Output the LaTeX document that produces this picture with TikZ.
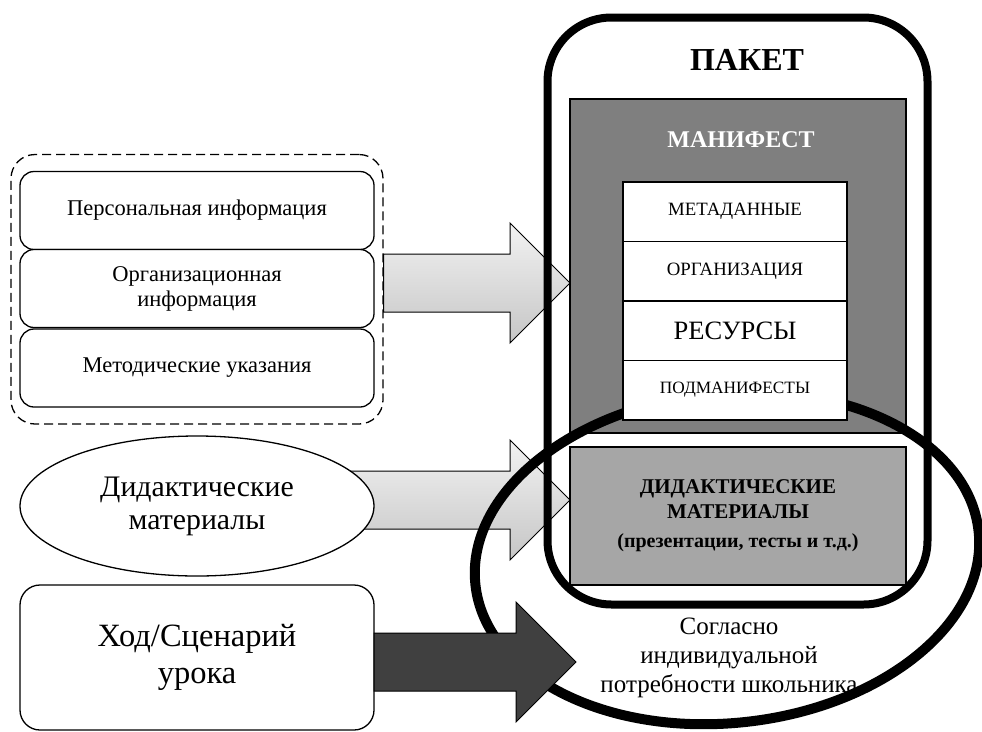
\documentclass[tikz,border=0pt]{standalone}
\usepackage{fontspec}
\setmainfont{Liberation Serif}
\usetikzlibrary{positioning,fit,calc,backgrounds,shapes.geometric}

\definecolor{mangray}{RGB}{127,127,127}
\definecolor{didgray}{RGB}{166,166,166}
\definecolor{darkarrow}{RGB}{64,64,64}

\tikzset{
  infobox/.style={draw, line width=1.3pt, rounded corners=14pt, fill=white,
    minimum width=354pt, minimum height=78pt, align=center, outer sep=0pt,
    font=\fontsize{22.5}{25}\selectfont},
  groupbox/.style={draw, dash pattern=on 9pt off 5pt, line width=1.3pt,
    rounded corners=24pt, inner xsep=9pt, inner ysep=17pt},
  pkgbox/.style={draw, line width=8pt, rounded corners=64pt,
    minimum width=380pt, minimum height=587pt},
  graybox/.style={draw, line width=1.3pt, fill=#1, minimum width=336pt,
    align=center, outer sep=0pt},
  partbox/.style={draw, line width=1.5pt, fill=white, minimum width=224pt,
    minimum height=59.5pt, outer sep=0pt, font=\fontsize{18.8}{22}\selectfont},
  lightarrow/.style={draw, line width=1pt, top color=gray!10, bottom color=gray!45},
  darkarr/.style={draw, line width=1pt, fill=darkarrow},
}

% block arrow: style, from, tip
\newcommand{\blockarrow}[3]{%
  \draw[#1] let \p1=(#2), \p2=(#3) in
    ({\x1},{\y2+29pt}) -- ({\x2-60pt},{\y2+29pt}) -- ({\x2-60pt},{\y2+60pt})
    -- (\x2,\y2) -- ({\x2-60pt},{\y2-60pt}) -- ({\x2-60pt},{\y2-29pt})
    -- ({\x1},{\y2-29pt}) -- cycle;}

\begin{document}
\begin{tikzpicture}[x=1pt, y=-1pt]
  \useasboundingbox (0,0) rectangle (982,731);

  % left side
  \node[infobox] (pers) at (197,210.5) {Персональная информация};
  \node[infobox] (org) at (197,288.5) {Организационная\\информация};
  \node[infobox] (method) at (197,368) {Методические указания};
  \node[groupbox, fit=(pers)(org)(method)] (group) {};
  \node[draw, line width=1.3pt, ellipse, fill=white, minimum width=354pt,
    minimum height=140pt, align=center, font=\fontsize{29.8}{33}\selectfont]
    (didmat) at (197,506) {Дидактические\\материалы};
  \node[infobox, rounded corners=20pt, minimum height=145pt,
    font=\fontsize{32.5}{37}\selectfont] (lesson) at (197,657.5) {Ход/Сценарий\\урока};

  % package
  \node[pkgbox] (pkg) at (737.5,311) {};
  \node[font=\fontsize{32}{36}\selectfont\bfseries] (pkgname) at (747,60) {ПАКЕТ};
  \node[graybox=mangray, minimum height=334pt] (manifest) at (738,266) {};
  \node[font=\fontsize{24}{28}\selectfont\bfseries, text=white] (manname) at (741,140) {МАНИФЕСТ};
  \node[graybox=didgray, minimum height=138pt, font=\fontsize{21}{25}\selectfont\bfseries]
    (didpkg) at (738,516) {ДИДАКТИЧЕСКИЕ\\МАТЕРИАЛЫ\\[4pt]{\fontsize{20}{22}\selectfont(презентации, тесты и т.д.)}};

  % individual need
  \draw[line width=10pt] (727,558) ellipse [x radius=253pt, y radius=165pt, rotate=6];

  \node[partbox] (meta) at (735,211.5) {МЕТАДАННЫЕ};
  \node[partbox, below=0pt of meta] (orgn) {ОРГАНИЗАЦИЯ};
  \node[partbox, below=0pt of orgn, font=\fontsize{26.5}{30}\selectfont] (res) {РЕСУРСЫ};
  \node[partbox, below=0pt of res, font=\fontsize{17.3}{21}\selectfont] (sub) {ПОДМАНИФЕСТЫ};

  \node[align=center, font=\fontsize{25}{29}\selectfont] (need) at (729,658)
    {Согласно\\индивидуальной\\потребности школьника};

  \coordinate (tipA) at (570,283);
  \coordinate (tipB) at (570,500);
  \coordinate (tipC) at (576,662);
  \begin{scope}[on background layer]
    \blockarrow{lightarrow}{group.east}{tipA}
    \blockarrow{lightarrow}{didmat.center}{tipB}
  \end{scope}
  \blockarrow{darkarr}{lesson.east}{tipC}
\end{tikzpicture}
\end{document}
